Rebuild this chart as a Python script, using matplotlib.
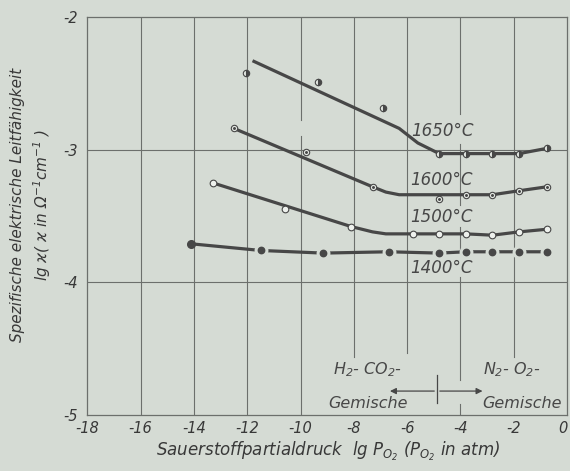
import matplotlib
matplotlib.use("Agg")
import matplotlib.pyplot as plt

plt.rcParams.update({
    'font.family': 'DejaVu Sans',
    'font.style': 'italic',
    'font.size': 11,
    'mathtext.fontset': 'dejavusans',
    'mathtext.default': 'it',
    'axes.unicode_minus': False,
})

BG = '#d5dbd4'
INK = '#474747'
GRID = '#6c6f6c'

# 1650 °C: smoothed curve and measured points
c1650_x = [-11.8, -6.3, -5.6, -5.0, -4.8, -1.8, -0.75]
c1650_y = [-2.33, -2.84, -2.95, -3.01, -3.03, -3.03, -2.99]
p1650_x = [-12.05, -9.35, -6.9, -4.8, -3.8, -2.8, -1.8, -0.75]
p1650_y = [-2.42, -2.49, -2.69, -3.03, -3.03, -3.03, -3.03, -2.99]

# 1600 °C
c1600_x = [-12.5, -7.3, -6.8, -6.3, -3.8, -2.8, -1.8, -0.75]
c1600_y = [-2.84, -3.28, -3.32, -3.34, -3.34, -3.34, -3.31, -3.28]
p1600_x = [-12.5, -9.8, -7.3, -4.8, -3.8, -2.8, -1.8, -0.75]
p1600_y = [-2.84, -3.02, -3.28, -3.37, -3.34, -3.34, -3.31, -3.28]

# 1500 °C
c1500_x = [-13.3, -8.1, -7.3, -6.8, -5.8, -4.8, -3.8, -2.8, -1.8, -0.75]
c1500_y = [-3.25, -3.58, -3.62, -3.635, -3.635, -3.635, -3.635, -3.645, -3.62, -3.60]
p1500_x = [-13.3, -10.6, -8.1, -5.8, -4.8, -3.8, -2.8, -1.8, -0.75]
p1500_y = [-3.25, -3.45, -3.58, -3.635, -3.635, -3.635, -3.645, -3.62, -3.60]

# 1400 °C
p1400_x = [-14.1, -11.5, -9.15, -6.7, -4.8, -3.8, -2.8, -1.8, -0.75]
p1400_y = [-3.71, -3.76, -3.78, -3.77, -3.78, -3.77, -3.77, -3.77, -3.77]

xticks = list(range(-18, 1, 2))
yticks = [-5, -4, -3, -2]

# vertical grid lines (partly interrupted in the original)
vgrid = {
    -16: [(-5, -2)], -14: [(-5, -2)], -12: [(-5, -2)],
    -10: [(-5, -2.9), (-2.78, -2)],
    -8: [(-4.56, -2)], -6: [(-4.53, -2)], -2: [(-4.56, -2)],
    -4: [(-5, -4.92), (-4.74, -3.96), (-3.78, -3.58), (-3.42, -2.96), (-2.73, -2)],
}

fig = plt.figure(figsize=(5.7, 4.71), dpi=100, facecolor=BG)
ax = fig.add_axes([0.153, 0.119, 0.842, 0.845], facecolor=BG)

for gx, segs in vgrid.items():
    for y0, y1 in segs:
        ax.plot([gx, gx], [y0, y1], color=GRID, lw=0.8, zorder=1)
for gy in [-3, -4]:
    ax.axhline(gy, color=GRID, lw=0.8, zorder=1)

# curves
ax.plot(c1650_x, c1650_y, color=INK, lw=2.3, solid_capstyle='butt', zorder=3)
ax.plot(c1600_x, c1600_y, color=INK, lw=2.3, zorder=3)
ax.plot(c1500_x, c1500_y, color=INK, lw=2.3, zorder=3)
ax.plot(p1400_x, p1400_y, color=INK, lw=2.3, zorder=3)

# markers
ax.plot(p1650_x, p1650_y, ls='none', marker='o', ms=4.6, fillstyle='right',
        mfc=INK, mfcalt='#e4e8e3', mec=INK, mew=0.8, zorder=5)
ax.plot(p1600_x, p1600_y, ls='none', marker='o', ms=4.6, mfc='#e4e8e3', mec=INK, mew=0.8, zorder=5)
ax.plot(p1600_x, p1600_y, ls='none', marker='o', ms=1.1, mfc=INK, mec=INK, zorder=6)
ax.plot(p1500_x, p1500_y, ls='none', marker='o', ms=4.8, mfc='#eef1ed', mec=INK, mew=0.8, zorder=5)
ax.plot(p1400_x[1:], p1400_y[1:], ls='none', marker='o', ms=10, mfc=BG, mec='none', zorder=4)
ax.plot(p1400_x[1:], p1400_y[1:], ls='none', marker='o', ms=4.6, mfc=INK, mec=INK, zorder=5)
ax.plot(p1400_x[:1], p1400_y[:1], ls='none', marker='o', ms=5.5, mfc=INK, mec=INK, zorder=5)

# temperature labels
ax.text(-5.85, -2.86, '1650°C', color=INK, fontsize=12, va='center', ha='left')
ax.text(-5.9, -3.23, '1600°C', color=INK, fontsize=12, va='center', ha='left')
ax.text(-5.9, -3.51, '1500°C', color=INK, fontsize=12, va='center', ha='left')
ax.text(-5.9, -3.89, '1400°C', color=INK, fontsize=12, va='center', ha='left')

# gas mixture annotation
ax.text(-8.8, -4.66, '$H_2$- $CO_2$-', color=INK, fontsize=11.5, va='center', ha='left')
ax.text(-8.95, -4.91, 'Gemische', color=INK, fontsize=11.5, va='center', ha='left')
ax.text(-3.15, -4.66, '$N_2$- $O_2$-', color=INK, fontsize=11.5, va='center', ha='left')
ax.text(-0.2, -4.91, 'Gemische', color=INK, fontsize=11.5, va='center', ha='right')
ax.annotate('', xy=(-6.75, -4.82), xytext=(-4.88, -4.82),
            arrowprops=dict(arrowstyle='-|>', color=INK, lw=0.9, mutation_scale=9))
ax.annotate('', xy=(-3.07, -4.82), xytext=(-4.88, -4.82),
            arrowprops=dict(arrowstyle='-|>', color=INK, lw=0.9, mutation_scale=9))
ax.plot([-4.88, -4.88], [-4.70, -4.91], color=INK, lw=0.9)

ax.set_xlim(-18, 0)
ax.set_ylim(-5, -2)
ax.set_xticks(xticks)
ax.set_yticks(yticks)
ax.tick_params(length=0, labelsize=10.5, labelcolor='#383838')
ax.tick_params(axis='x', pad=4)
ax.tick_params(axis='y', pad=7)
ax.get_xticklabels()[-1].set_horizontalalignment('right')
for s in ax.spines.values():
    s.set_color(GRID)
    s.set_linewidth(0.9)

fig.text(0.575, 1 - 451 / 471, 'Sauerstoffpartialdruck  lg $P_{O_2}$ ($P_{O_2}$ in atm)',
         ha='center', va='center', fontsize=12, color='#383838')
fig.text(18 / 570, 1 - 205 / 471, 'Spezifische elektrische Leitfähigkeit',
         rotation=90, ha='center', va='center', fontsize=11, color='#383838')
fig.text(42 / 570, 1 - 205 / 471, 'lg ϰ( ϰ in Ω$^{-1}$cm$^{-1}$ )',
         rotation=90, ha='center', va='center', fontsize=11, color='#383838')

fig.savefig('out.png', dpi=100, facecolor=BG)
